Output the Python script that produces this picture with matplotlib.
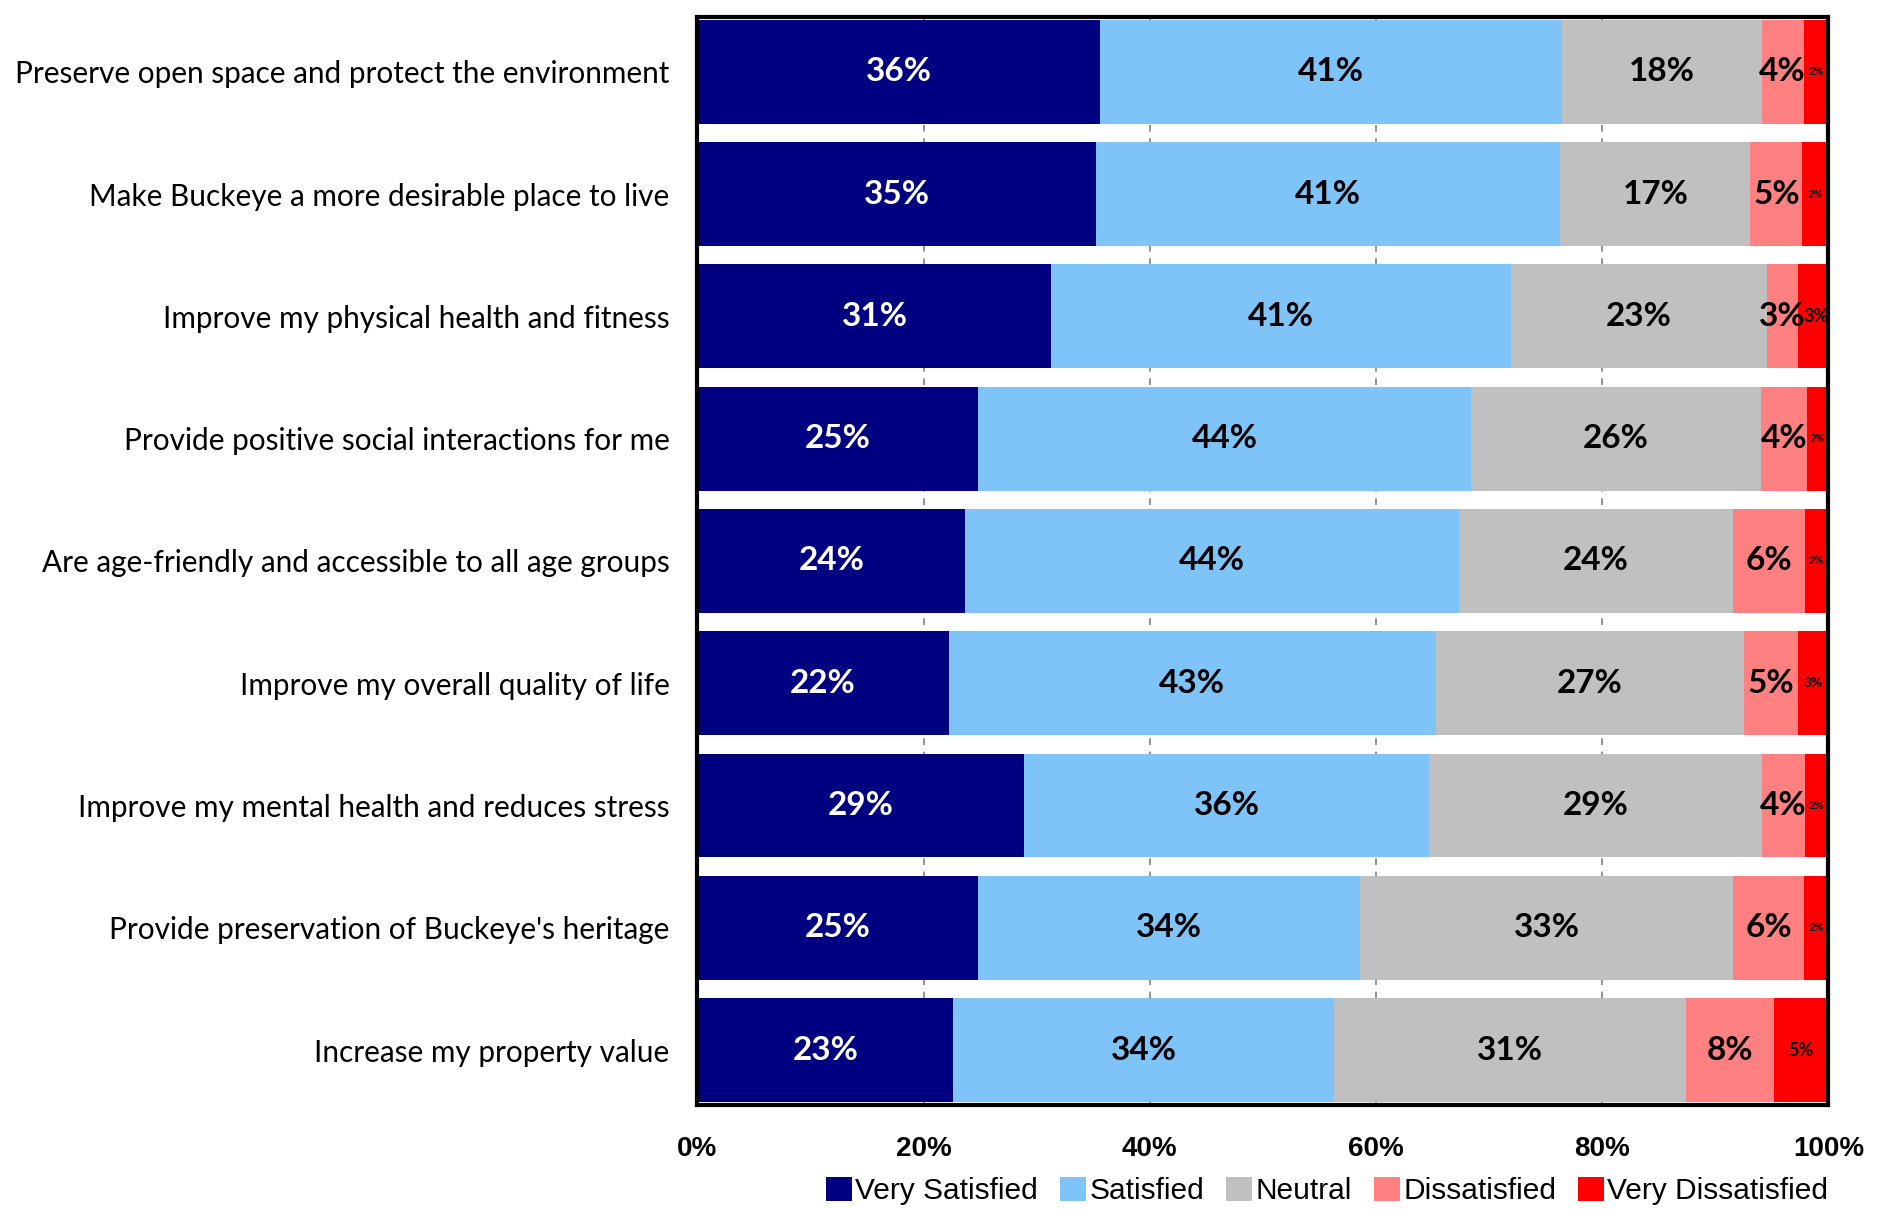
import numpy as np
import matplotlib
matplotlib.use('Agg')
import matplotlib.pyplot as plt

categories = [
    "Preserve open space and protect the environment",
    "Make Buckeye a more desirable place to live",
    "Improve my physical health and fitness",
    "Provide positive social interactions for me",
    "Are age-friendly and accessible to all age groups",
    "Improve my overall quality of life",
    "Improve my mental health and reduces stress",
    "Provide preservation of Buckeye's heritage",
    "Increase my property value",
]
series = ["Very Satisfied", "Satisfied", "Neutral", "Dissatisfied", "Very Dissatisfied"]
very_satisfied = [35.6, 35.2, 31.3, 24.8, 23.7, 22.2, 28.9, 24.8, 22.6]
satisfied = [40.8, 41.1, 40.6, 43.6, 43.6, 43.1, 35.8, 33.8, 33.7]
neutral = [17.7, 16.8, 22.7, 25.6, 24.3, 27.2, 29.4, 33.0, 31.1]
dissatisfied = [3.7, 4.6, 2.7, 4.1, 6.3, 4.8, 3.8, 6.2, 7.8]
very_dissatisfied = [2.2, 2.3, 2.7, 1.9, 2.1, 2.7, 2.0, 2.3, 4.8]
# size of the "Very Dissatisfied" labels differs per row in the original
vd_label_size = [8, 8, 13, 8, 8, 10, 8, 8, 13]

colors = ["#000080", "#7FC4F8", "#C0C0C0", "#FF8080", "#FF0000"]
label_colors = ["white", "black", "black", "black", "black"]

plt.rcParams['font.family'] = ['Lato', 'DejaVu Sans']
narrow = ['Liberation Sans', 'DejaVu Sans']

fig = plt.figure(figsize=(18.85, 12.09), dpi=100)
ax = fig.add_axes([0.370, 0.086, 0.600, 0.900])

data = [very_satisfied, satisfied, neutral, dissatisfied, very_dissatisfied]
y = np.arange(len(categories))
left = np.zeros(len(categories))
for i, (name, vals) in enumerate(zip(series, data)):
    vals = np.array(vals)
    ax.barh(y, vals, left=left, height=0.85, color=colors[i], label=name, zorder=2)
    for j, v in enumerate(vals):
        size = vd_label_size[j] if i == 4 else 24
        xpos = left[j] + v / 2
        if i == 4 and j == 2:
            xpos += 0.3  # the two 3% labels nearly touch here
        ax.text(xpos, y[j], f"{v:.0f}%", ha='center', va='center',
                color=label_colors[i], fontsize=size, fontweight='bold', zorder=3)
    left += vals

ax.set_xlim(0, 100)
ax.set_ylim(len(categories) - 0.55, -0.45)
ax.set_yticks(y)
ax.set_yticklabels(categories, fontsize=21.4)
ax.set_xticks([0, 20, 40, 60, 80, 100])
ax.set_xticklabels(["0%", "20%", "40%", "60%", "80%", "100%"],
                   fontsize=20, fontweight='bold', family=narrow)
ax.tick_params(axis='both', length=0)
ax.tick_params(axis='x', pad=22)
ax.tick_params(axis='y', pad=20)
ax.xaxis.grid(True, linestyle=(0, (4, 4)), color='#808080', linewidth=1.2, zorder=0)
ax.set_axisbelow(True)
for s in ax.spines.values():
    s.set_linewidth(3)
    s.set_color('black')

ax.legend(loc='upper right', bbox_to_anchor=(1.0, -0.066), ncol=5, frameon=False,
          prop={'family': narrow, 'size': 21.5},
          handlelength=0.85, handleheight=0.85, handletextpad=0.12, columnspacing=0.75,
          borderaxespad=0, borderpad=0)

fig.savefig('out.png', dpi=100)
